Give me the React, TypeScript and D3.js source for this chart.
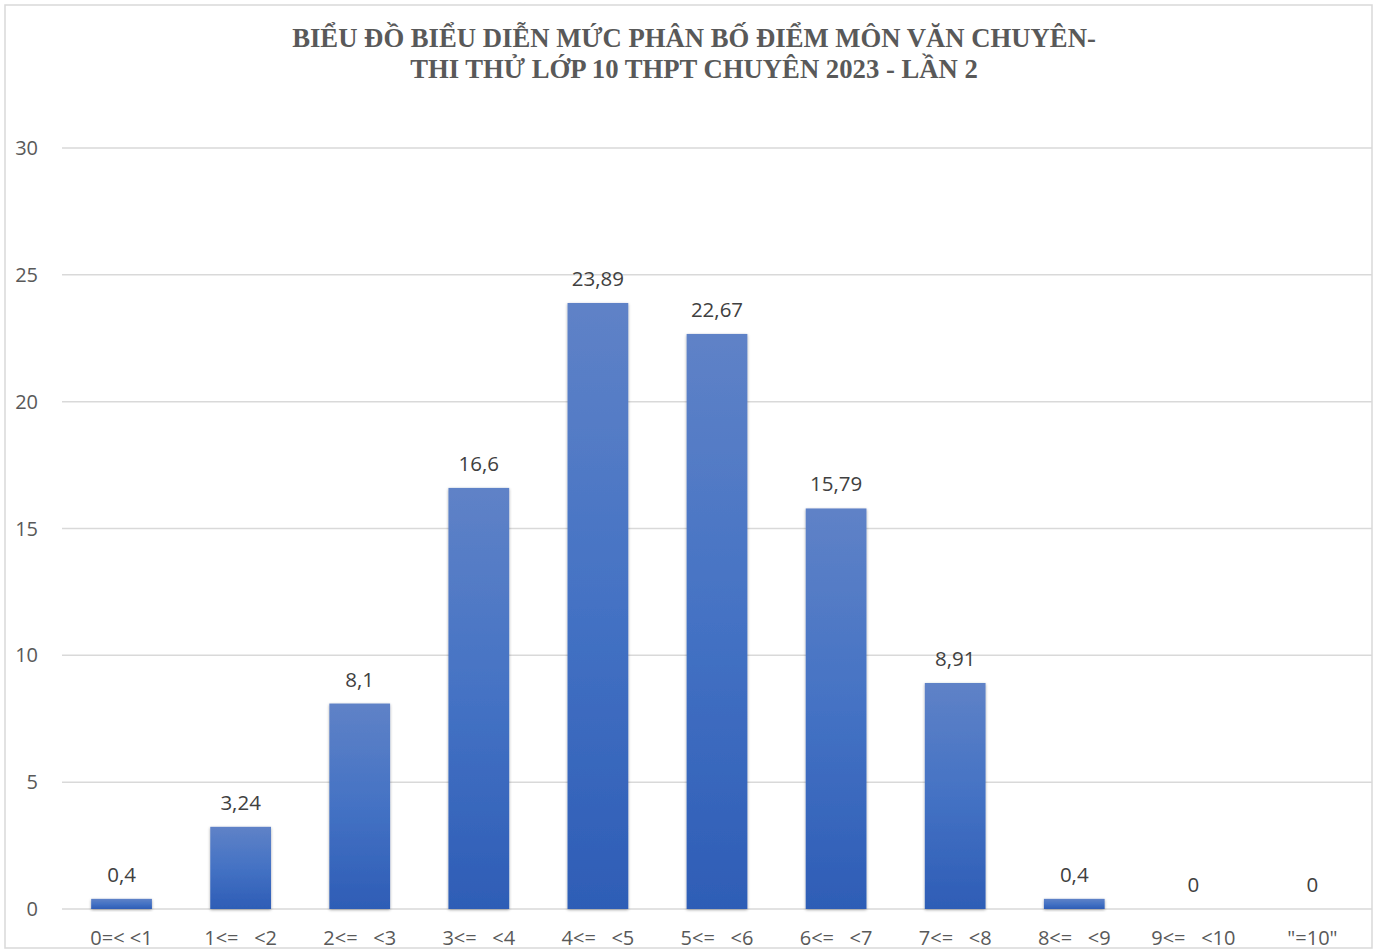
import React from "react";
import * as d3 from "d3";

const categories = ["0=< <1", "1<=   <2", "2<=   <3", "3<=   <4", "4<=   <5", "5<=   <6", "6<=   <7", "7<=   <8", "8<=   <9", "9<=   <10", "\"=10\""];
const values = [0.4, 3.24, 8.1, 16.6, 23.89, 22.67, 15.79, 8.91, 0.4, 0, 0];
const valueLabels = ["0,4", "3,24", "8,1", "16,6", "23,89", "22,67", "15,79", "8,91", "0,4", "0", "0"];
const yTicks = [0, 5, 10, 15, 20, 25, 30];
const titleLines = ["BIỂU ĐỒ BIỂU DIỄN MỨC PHÂN BỐ ĐIỂM MÔN VĂN CHUYÊN-", "THI THỬ LỚP 10 THPT CHUYÊN 2023 - LẦN 2"];

const W = 1383;
const H = 952;
const plot = { left: 62, right: 1372, top: 148, bottom: 909 };

export default function App() {
  const x = d3.scaleBand<string>().domain(categories).range([plot.left, plot.right]).paddingInner(0.49).paddingOuter(0.245);
  const y = d3.scaleLinear().domain([0, 30]).range([plot.bottom, plot.top]);
  const sans = "'Open Sans', 'Noto Sans', sans-serif";
  return (
    <div style={{ position: "absolute", left: 0, top: 0 }}>
      <svg width={W} height={H} style={{ display: "block", background: "#fff" }}>
        <defs>
          <linearGradient id="barGrad" x1="0" y1="0" x2="0" y2="1">
            <stop offset="0%" stopColor="#5F82C7" />
            <stop offset="50%" stopColor="#4472C4" />
            <stop offset="100%" stopColor="#2E5DB6" />
          </linearGradient>
          <filter id="shadow" x="-20%" y="-20%" width="140%" height="140%">
            <feGaussianBlur in="SourceAlpha" stdDeviation="1.5" />
            <feOffset dx="0" dy="1" result="b" />
            <feComponentTransfer><feFuncA type="linear" slope="0.35" /></feComponentTransfer>
            <feMerge>
              <feMergeNode />
              <feMergeNode in="SourceGraphic" />
            </feMerge>
          </filter>
        </defs>
        <rect x={5} y={5} width={1367} height={943} fill="#fff" stroke="#d9d9d9" strokeWidth={1.5} />
        {titleLines.map((t, i) => (
          <text key={i} x={694} y={47 + i * 31} textAnchor="middle" fontFamily="'Liberation Serif', 'Times New Roman', serif" fontWeight="bold" fontSize={26.7} fill="#595959">{t}</text>
        ))}
        {yTicks.map((t) => (
          <g key={t}>
            <line x1={plot.left} x2={plot.right} y1={y(t)} y2={y(t)} stroke="#d9d9d9" strokeWidth={1.5} />
            <text x={38} y={y(t)} dy="0.35em" textAnchor="end" fontFamily={sans} fontSize={20} fill="#595959">{t}</text>
          </g>
        ))}
        {categories.map((c, i) => {
          const v = values[i];
          const bx = x(c)!;
          const by = y(v);
          return (
            <g key={c}>
              {v > 0 && (
                <rect x={bx} y={by} width={x.bandwidth()} height={y(0) - by} fill="url(#barGrad)" filter="url(#shadow)" />
              )}
              <text x={bx + x.bandwidth() / 2} y={by - 17} textAnchor="middle" fontFamily={sans} fontSize={20.5} fill="#404040">{valueLabels[i]}</text>
              <text x={bx + x.bandwidth() / 2} y={945} textAnchor="middle" fontFamily={sans} fontSize={20} fill="#595959" style={{ whiteSpace: "pre" }}>{c}</text>
            </g>
          );
        })}
      </svg>
    </div>
  );
}
